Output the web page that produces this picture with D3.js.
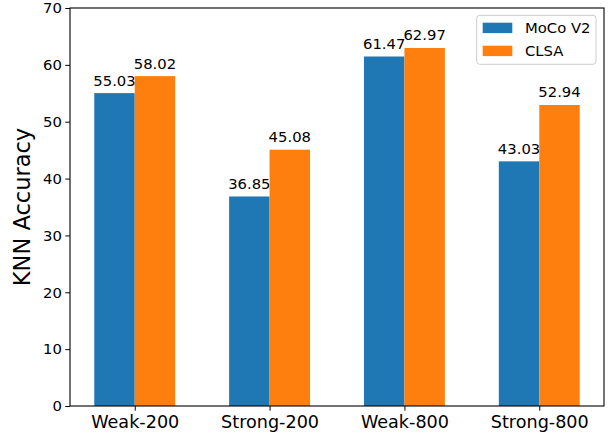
<!DOCTYPE html>
<html>
<head>
<meta charset="utf-8">
<script src="https://cdn.jsdelivr.net/npm/d3@7"></script>
<style>
    body { margin: 0; background: #fff; }
    svg text { font-family: "DejaVu Sans", sans-serif; fill: #000; }
</style>
</head>
<body>
<div id="chart"></div>
<script>
const categories = ["Weak-200", "Strong-200", "Weak-800", "Strong-800"];
const seriesNames = ["MoCo V2", "CLSA"];
const mocoValues = [55.03, 36.85, 61.47, 43.03];
const clsaValues = [58.02, 45.08, 62.97, 52.94];
const yTicks = [0, 10, 20, 30, 40, 50, 60, 70];

const colors = ["#1f77b4", "#ff7f0e"];
const W = 611, H = 438;
const margin = {top: 8, right: 7, bottom: 32, left: 70};
const width = W - margin.left - margin.right;
const height = H - margin.top - margin.bottom;

const svg = d3.select("#chart").append("svg")
    .attr("width", W)
    .attr("height", H);

const g = svg.append("g")
    .attr("transform", `translate(${margin.left},${margin.top})`);

// linear x scale like matplotlib: positions 0..3, bar width 0.3
const x = d3.scaleLinear().domain([-0.48, 3.48]).range([0, width]);
const y = d3.scaleLinear().domain([0, 70]).range([height, 0]);
const barW = 0.3;

const series = [mocoValues, clsaValues];
series.forEach((vals, si) => {
    const off = si === 0 ? -barW / 2 : barW / 2;
    g.selectAll(".bar" + si)
        .data(vals)
        .enter()
        .append("rect")
        .attr("class", "bar" + si)
        .attr("x", (d, i) => x(i + off - barW / 2))
        .attr("width", x(barW) - x(0))
        .attr("y", d => y(d))
        .attr("height", d => y(0) - y(d))
        .attr("fill", colors[si]);

    g.selectAll(".lab" + si)
        .data(vals)
        .enter()
        .append("text")
        .attr("x", (d, i) => x(i + off))
        .attr("y", d => y(d) - 7.5)
        .attr("text-anchor", "middle")
        .style("font-size", "14.8px")
        .text(d => d.toFixed(2));
});

// frame
g.append("rect")
    .attr("width", width)
    .attr("height", height)
    .attr("fill", "none")
    .attr("stroke", "#000")
    .attr("stroke-width", 1.1);

// y axis
const yAxis = g.append("g")
    .call(d3.axisLeft(y).tickValues(yTicks).tickSize(4.7).tickPadding(3.5));
yAxis.select(".domain").remove();
yAxis.selectAll("text").style("font-size", "14.8px");

// x axis
const xAxis = g.append("g")
    .attr("transform", `translate(0,${height})`)
    .call(d3.axisBottom(x).tickValues([0, 1, 2, 3])
        .tickFormat(i => categories[i]).tickSize(4.7).tickPadding(5));
xAxis.select(".domain").remove();
xAxis.selectAll("text").style("font-size", "17.6px");

// y label
svg.append("text")
    .attr("transform", `translate(30,${margin.top + height / 2}) rotate(-90)`)
    .attr("text-anchor", "middle")
    .style("font-size", "22.5px")
    .text("KNN Accuracy");

// legend
const legend = svg.append("g").attr("transform", "translate(476.7,15.3)");
legend.append("rect")
    .attr("width", 119.3)
    .attr("height", 49)
    .attr("rx", 3)
    .attr("fill", "#fff")
    .attr("fill-opacity", 0.8)
    .attr("stroke", "#ccc")
    .attr("stroke-width", 1);

seriesNames.forEach((name, i) => {
    legend.append("rect")
        .attr("x", 6)
        .attr("y", 7.4 + i * 23)
        .attr("width", 29.6)
        .attr("height", 10.4)
        .attr("fill", colors[i]);
    legend.append("text")
        .attr("x", 48.3)
        .attr("y", 18 + i * 23)
        .style("font-size", "14.8px")
        .text(name);
});
</script>
</body>
</html>
